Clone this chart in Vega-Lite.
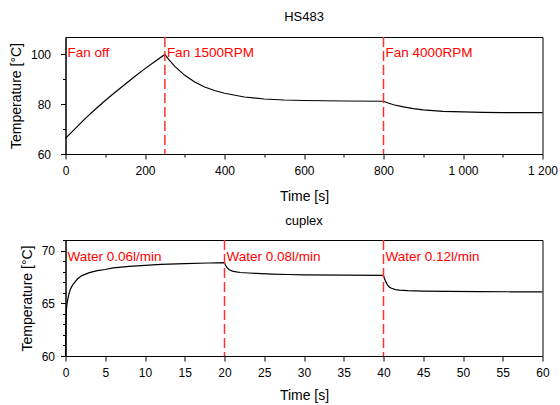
{
  "$schema": "https://vega.github.io/schema/vega-lite/v6.json",
  "padding": {"left": 8.5, "top": 10, "right": 5, "bottom": 5},
  "spacing": 10,
  "config": {
    "font": "Liberation Sans",
    "view": {"stroke": "black", "strokeWidth": 1},
    "axis": {
      "domainColor": "black", "tickColor": "black", "labelColor": "black", "titleColor": "black",
      "labelFont": "Liberation Sans", "titleFont": "Liberation Sans",
      "labelFontSize": 12, "titleFontSize": 14, "titleFontWeight": "normal",
      "grid": false, "tickSize": 5, "labelPadding": 6, "labelFlush": false, "labelOverlap": false
    },
    "title": {"fontSize": 13, "fontWeight": "normal", "color": "black", "offset": 12, "font": "Liberation Sans"}
  },
  "datasets": {
    "hs": [
      {"t": 0, "T": 66.3}, {"t": 10, "T": 67.9}, {"t": 25, "T": 70.3}, {"t": 50, "T": 74.3},
      {"t": 75, "T": 78.0}, {"t": 100, "T": 81.5}, {"t": 125, "T": 84.8}, {"t": 150, "T": 88.0},
      {"t": 175, "T": 91.2}, {"t": 200, "T": 94.3}, {"t": 225, "T": 97.2}, {"t": 250, "T": 100.0},
      {"t": 260, "T": 97.9}, {"t": 275, "T": 95.2}, {"t": 300, "T": 91.6}, {"t": 325, "T": 88.9},
      {"t": 350, "T": 86.9}, {"t": 375, "T": 85.5}, {"t": 400, "T": 84.4}, {"t": 450, "T": 82.9},
      {"t": 500, "T": 82.1}, {"t": 550, "T": 81.7}, {"t": 600, "T": 81.5}, {"t": 700, "T": 81.3},
      {"t": 800, "T": 81.2}, {"t": 810, "T": 80.6}, {"t": 825, "T": 79.8}, {"t": 850, "T": 78.9},
      {"t": 875, "T": 78.2}, {"t": 900, "T": 77.7}, {"t": 950, "T": 77.15}, {"t": 1000, "T": 76.9},
      {"t": 1050, "T": 76.75}, {"t": 1100, "T": 76.65}, {"t": 1200, "T": 76.6}
    ],
    "hsMarks": [
      {"t": 0, "label": "Fan off", "line": false},
      {"t": 250, "label": "Fan 1500RPM", "line": true},
      {"t": 800, "label": "Fan 4000RPM", "line": true}
    ],
    "cup": [
      {"t": 0, "T": 60.0}, {"t": 0.03, "T": 62.5}, {"t": 0.06, "T": 63.7}, {"t": 0.1, "T": 64.3},
      {"t": 0.2, "T": 65.0}, {"t": 0.4, "T": 65.8}, {"t": 0.6, "T": 66.3}, {"t": 0.8, "T": 66.6},
      {"t": 1.0, "T": 66.85}, {"t": 1.5, "T": 67.3}, {"t": 2, "T": 67.6}, {"t": 3, "T": 67.9},
      {"t": 4, "T": 68.1}, {"t": 5, "T": 68.2}, {"t": 6, "T": 68.35}, {"t": 8, "T": 68.5},
      {"t": 10, "T": 68.6}, {"t": 12, "T": 68.68}, {"t": 15, "T": 68.76}, {"t": 18, "T": 68.82},
      {"t": 20, "T": 68.85}, {"t": 20.1, "T": 68.65}, {"t": 20.3, "T": 68.4}, {"t": 20.6, "T": 68.18},
      {"t": 21, "T": 68.05}, {"t": 21.5, "T": 67.98}, {"t": 22, "T": 67.92}, {"t": 23, "T": 67.87},
      {"t": 24, "T": 67.83}, {"t": 26, "T": 67.77}, {"t": 28, "T": 67.73}, {"t": 30, "T": 67.7},
      {"t": 35, "T": 67.66}, {"t": 40, "T": 67.64}, {"t": 40.1, "T": 67.4}, {"t": 40.25, "T": 67.1},
      {"t": 40.5, "T": 66.75}, {"t": 40.75, "T": 66.52}, {"t": 41, "T": 66.42}, {"t": 41.5, "T": 66.3},
      {"t": 42, "T": 66.25}, {"t": 43, "T": 66.2}, {"t": 45, "T": 66.16}, {"t": 48, "T": 66.13},
      {"t": 52, "T": 66.11}, {"t": 56, "T": 66.09}, {"t": 60, "T": 66.08}
    ],
    "cupMarks": [
      {"t": 0, "label": "Water 0.06l/min", "line": false},
      {"t": 20, "label": "Water 0.08l/min", "line": true},
      {"t": 40, "label": "Water 0.12l/min", "line": true}
    ]
  },
  "vconcat": [
    {
      "title": {"text": "HS483", "anchor": "middle", "frame": "group"},
      "width": 477,
      "height": 117,
      "layer": [
        {
          "data": {"name": "hs"},
          "mark": {"type": "line", "color": "black", "strokeWidth": 1.2},
          "encoding": {
            "x": {"field": "t", "type": "quantitative", "scale": {"domain": [0, 1200], "nice": false},
              "axis": {"orient": "bottom", "title": "Time [s]",
                "values": [0, 100, 200, 300, 400, 500, 600, 700, 800, 900, 1000, 1100, 1200],
                "tickSize": {"condition": {"test": "datum.value % 200 === 0", "value": 5}, "value": 3},
                "labelExpr": "datum.value % 200 === 0 ? replace(format(datum.value, ','), ',', ' ') : ''",
                "titlePadding": 13}},
            "y": {"field": "T", "type": "quantitative", "scale": {"domain": [60, 107], "nice": false, "zero": false},
              "axis": {"orient": "left", "title": "Temperature [°C]", "values": [60, 70, 80, 90, 100],
                "tickSize": {"condition": {"test": "datum.value % 20 === 0", "value": 5}, "value": 3},
                "labelExpr": "datum.value % 20 === 0 ? datum.label : ''",
                "labelPadding": 10, "titlePadding": 7}}
          }
        },
        {
          "data": {"name": "hsMarks"},
          "transform": [{"filter": "datum.line"}],
          "mark": {"type": "rule", "color": "#ff3030", "strokeWidth": 1.5, "strokeDash": [10, 4]},
          "encoding": {"x": {"field": "t", "type": "quantitative", "axis": null}}
        },
        {
          "data": {"name": "hsMarks"},
          "mark": {"type": "text", "color": "#ff0000", "fontSize": 13.5, "align": "left", "baseline": "alphabetic", "dx": 2, "font": "Liberation Sans"},
          "encoding": {
            "x": {"field": "t", "type": "quantitative", "axis": null},
            "y": {"datum": 99.1, "type": "quantitative", "axis": null},
            "text": {"field": "label"}
          }
        }
      ],
      "resolve": {"axis": {"x": "independent", "y": "independent"}}
    },
    {
      "title": {"text": "cuplex", "anchor": "middle", "frame": "group", "offset": 6},
      "width": 477,
      "height": 116,
      "layer": [
        {
          "data": {"name": "cup"},
          "mark": {"type": "line", "color": "black", "strokeWidth": 1.2},
          "encoding": {
            "x": {"field": "t", "type": "quantitative", "scale": {"domain": [0, 60], "nice": false},
              "axis": {"orient": "bottom", "title": "Time [s]", "values": [0, 5, 10, 15, 20, 25, 30, 35, 40, 45, 50, 55, 60], "titlePadding": 10}},
            "y": {"field": "T", "type": "quantitative", "scale": {"domain": [60, 71], "nice": false, "zero": false},
              "axis": {"orient": "left", "title": "Temperature [°C]",
                "values": [60, 61, 62, 63, 64, 65, 66, 67, 68, 69, 70, 71],
                "tickSize": {"condition": {"test": "datum.value % 5 === 0", "value": 5}, "value": 3},
                "labelExpr": "datum.value % 5 === 0 ? datum.label : ''",
                "labelPadding": 6, "titlePadding": 7}}
          }
        },
        {
          "data": {"name": "cupMarks"},
          "transform": [{"filter": "datum.line"}],
          "mark": {"type": "rule", "color": "#ff3030", "strokeWidth": 1.5, "strokeDash": [10, 4]},
          "encoding": {"x": {"field": "t", "type": "quantitative", "axis": null}}
        },
        {
          "data": {"name": "cupMarks"},
          "mark": {"type": "text", "color": "#ff0000", "fontSize": 13.5, "align": "left", "baseline": "alphabetic", "dx": 2, "font": "Liberation Sans"},
          "encoding": {
            "x": {"field": "t", "type": "quantitative", "axis": null},
            "y": {"datum": 69.0, "type": "quantitative", "axis": null},
            "text": {"field": "label"}
          }
        }
      ],
      "resolve": {"axis": {"x": "independent", "y": "independent"}}
    }
  ]
}
